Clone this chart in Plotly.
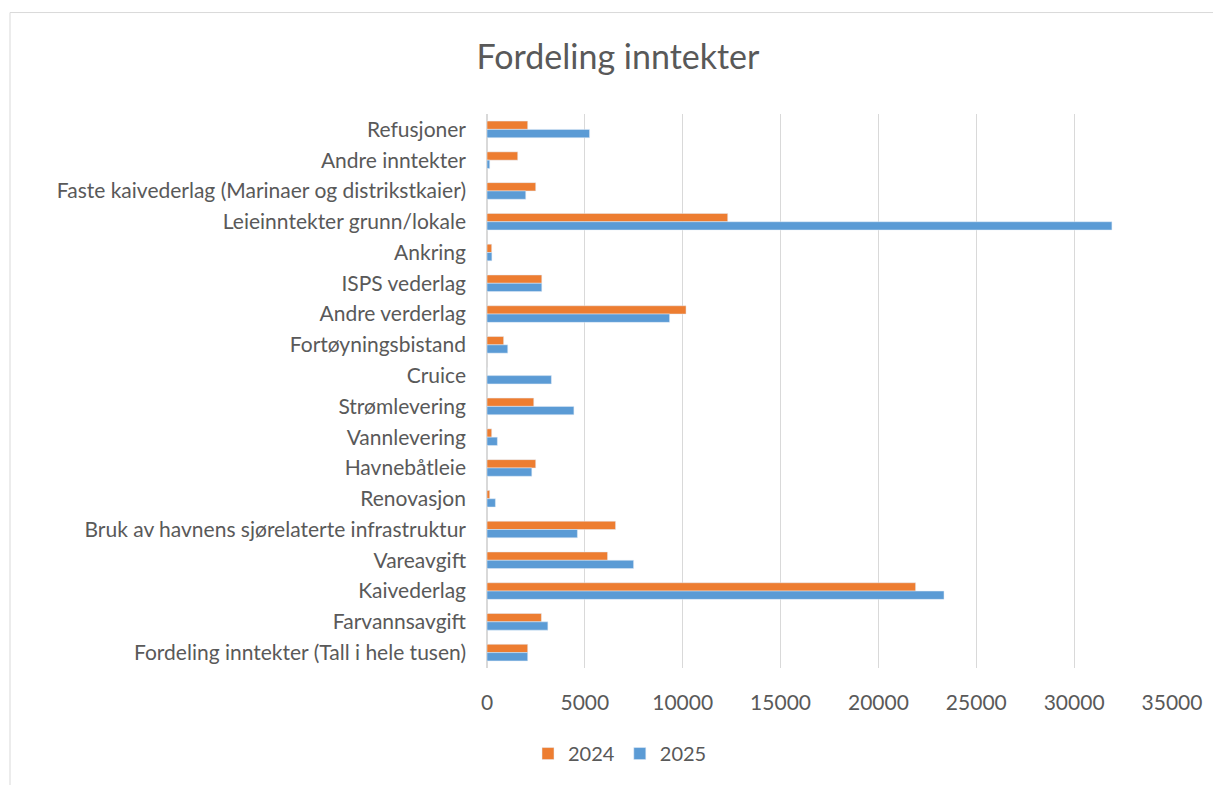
import plotly.graph_objects as go

categories = [
    "Refusjoner",
    "Andre inntekter",
    "Faste kaivederlag (Marinaer og distrikstkaier)",
    "Leieinntekter grunn/lokale",
    "Ankring",
    "ISPS vederlag",
    "Andre verderlag",
    "Fortøyningsbistand",
    "Cruice",
    "Strømlevering",
    "Vannlevering",
    "Havnebåtleie",
    "Renovasjon",
    "Bruk av havnens sjørelaterte infrastruktur",
    "Vareavgift",
    "Kaivederlag",
    "Farvannsavgift",
    "Fordeling inntekter (Tall i hele tusen)",
]
values_2024 = [2080, 1570, 2490, 12300, 240, 2800, 10170, 850, 0, 2390, 240, 2490, 140, 6570, 6160, 21900, 2780, 2080]
values_2025 = [5240, 140, 1980, 31930, 250, 2800, 9330, 1060, 3290, 4440, 530, 2290, 430, 4620, 7490, 23350, 3110, 2080]
x_ticks = [0, 5000, 10000, 15000, 20000, 25000, 30000, 35000]
x_tick_labels = ["0", "5000", "10000", "15000", "20000", "25000", "30000", "35000"]

FONT = "Lato, Open Sans, sans-serif"
GREY = "#595959"

fig = go.Figure()
fig.add_trace(go.Bar(y=categories, x=values_2024, name="2024", orientation="h",
                     marker=dict(color="#ED7D31")))
fig.add_trace(go.Bar(y=categories, x=values_2025, name="2025", orientation="h",
                     marker=dict(color="#5B9BD5")))

OFF = 8  # page body margin
W, H = 1221 - OFF, 785 - OFF
L = 487 - OFF
T = 114 - OFF
PR = 1172 - OFF
PB = 671 - OFF
R = W - PR
B = H - PB
pw = PR - L
ph = PB - T

fig.update_layout(
    width=W, height=H,
    margin=dict(l=L, r=R, t=T, b=B),
    paper_bgcolor="white", plot_bgcolor="white",
    barmode="group", bargap=0.46, bargroupgap=0,
    font=dict(family=FONT, color=GREY, size=21),
    title=dict(text="Fordeling inntekter", x=(618 - OFF) / W, xanchor="center",
               y=1 - (57 - OFF) / H, yanchor="middle",
               font=dict(family=FONT, size=34, color=GREY)),
    legend=dict(orientation="h", x=(620 - OFF - L) / pw, xanchor="center",
                y=-(757 - OFF - PB) / ph, yanchor="middle",
                font=dict(size=20, color=GREY), itemwidth=30,
                tracegroupgap=0, traceorder="normal"),
    xaxis=dict(range=[0, 35000], tickvals=x_ticks, ticktext=x_tick_labels,
               showgrid=True, gridcolor="#D9D9D9", gridwidth=1, zeroline=True,
               zerolinecolor="#D9D9D9", showline=False,
               ticklabelstandoff=20, tickfont=dict(size=21, color=GREY)),
    yaxis=dict(autorange="reversed", showgrid=False, showline=False,
               ticklabelstandoff=20, tickfont=dict(size=21, color=GREY)),
    shapes=[dict(type="rect", xref="paper", yref="paper",
                 x0=(10 - OFF - L) / pw, x1=(1240 - OFF - L) / pw,
                 y0=-(800 - OFF - PB) / ph, y1=1 + (T - (12 - OFF)) / ph,
                 line=dict(color="#D9D9D9", width=1), layer="below")],
)

fig.write_html("out.html")
